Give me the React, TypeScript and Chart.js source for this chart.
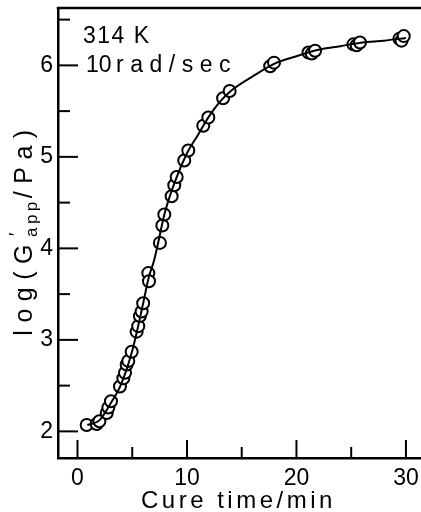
import React, { useEffect, useRef } from 'react';
import { Chart, registerables } from 'chart.js';

Chart.register(...registerables);

// Measured data: cure time (min) and log(G'app / Pa)
const timeMin = [0.84, 1.75, 2.0, 2.67, 2.82, 3.06, 3.88, 4.19, 4.34, 4.49, 4.64, 4.95, 5.4, 5.55, 5.7, 5.86, 6.0, 6.47, 6.53, 7.53, 7.75, 7.93, 8.6, 8.84, 9.06, 9.75, 10.12, 11.49, 11.95, 13.3, 13.9, 17.6, 17.95, 21.1, 21.4, 21.7, 25.2, 25.5, 25.8, 29.4, 29.6, 29.8];
const logG = [2.07, 2.08, 2.11, 2.2, 2.26, 2.33, 2.49, 2.58, 2.64, 2.73, 2.77, 2.87, 3.09, 3.15, 3.26, 3.31, 3.4, 3.73, 3.64, 4.06, 4.25, 4.37, 4.57, 4.69, 4.78, 4.96, 5.07, 5.34, 5.43, 5.64, 5.72, 5.99, 6.03, 6.14, 6.13, 6.16, 6.23, 6.22, 6.25, 6.29, 6.27, 6.32];

// Fitted curve
const curveTime = [0.9, 2, 3, 4, 5, 6, 6.5, 7, 8, 9, 10, 11, 12, 13, 14, 16, 18, 20, 22, 24, 26, 28, 30];
const curveLogG = [2.07, 2.12, 2.3, 2.52, 2.88, 3.4, 3.68, 3.87, 4.4, 4.76, 5.04, 5.24, 5.44, 5.6, 5.72, 5.88, 6.02, 6.1, 6.17, 6.21, 6.25, 6.27, 6.3];

const xTickStep = 5;
const yTickStep = 0.5;
const annotationLine1 = '314 K';
const annotationLine2a = '10';
const annotationLine2b = 'rad/sec';
const xTitle = 'Cure time/min';

const FONT = '"Liberation Sans", Arial, sans-serif';

function drawSpaced(ctx: CanvasRenderingContext2D, text: string, x: number, y: number, spacing: number) {
  (ctx as any).letterSpacing = spacing + 'px';
  ctx.fillText(text, x, y);
  (ctx as any).letterSpacing = '0px';
}

function measureSpaced(ctx: CanvasRenderingContext2D, text: string, spacing: number) {
  (ctx as any).letterSpacing = spacing + 'px';
  const w = ctx.measureText(text).width;
  (ctx as any).letterSpacing = '0px';
  return w;
}

const decorPlugin = {
  id: 'decor',
  afterDraw(chart: any) {
    const ctx: CanvasRenderingContext2D = chart.ctx;
    const { left, right, top, bottom } = chart.chartArea;
    const xs = chart.scales.x;
    const ys = chart.scales.y;
    ctx.save();
    ctx.strokeStyle = '#000';
    ctx.fillStyle = '#000';
    // top frame line
    ctx.lineWidth = 2.5;
    ctx.beginPath();
    ctx.moveTo(left - 1.25, top);
    ctx.lineTo(right, top);
    ctx.stroke();
    // inward ticks
    ctx.lineWidth = 2;
    ys.ticks.forEach((t: any) => {
      const p = ys.getPixelForValue(t.value);
      const major = Math.abs(t.value - Math.round(t.value)) < 1e-6;
      ctx.beginPath();
      ctx.moveTo(left, p);
      ctx.lineTo(left + (major ? 20 : 12), p);
      ctx.stroke();
    });
    xs.ticks.forEach((t: any) => {
      const p = xs.getPixelForValue(t.value);
      const major = Math.abs(t.value / 10 - Math.round(t.value / 10)) < 1e-6;
      ctx.beginPath();
      ctx.moveTo(p, bottom);
      ctx.lineTo(p, bottom - (major ? 18 : 11));
      ctx.stroke();
    });
    // annotation
    ctx.textAlign = 'left';
    ctx.textBaseline = 'alphabetic';
    ctx.font = `23px ${FONT}`;
    drawSpaced(ctx, annotationLine1, 83, 43, 1.5);
    drawSpaced(ctx, annotationLine2a, 86, 72, 0);
    drawSpaced(ctx, annotationLine2b, 116, 72, 6.5);
    // x title
    ctx.font = `24px ${FONT}`;
    drawSpaced(ctx, xTitle, 141, 508, 3.5);
    // y title (rotated, with subscript)
    ctx.save();
    ctx.translate(32, 229);
    ctx.rotate(-Math.PI / 2);
    const mainFont = `25px ${FONT}`;
    const subFont = `17px ${FONT}`;
    const parts = [
      { t: 'log(G', f: mainFont, dy: 0, s: 7.5 },
      { t: 'app', f: subFont, dy: 5, s: 3.5 },
      { t: '/Pa)', f: mainFont, dy: 0, s: 7.5 },
    ];
    let total = 0;
    const widths: number[] = [];
    parts.forEach((p) => {
      ctx.font = p.f;
      const w = measureSpaced(ctx, p.t, p.s);
      widths.push(w);
      total += w;
    });
    let cx = -total / 2;
    parts.forEach((p, i) => {
      ctx.font = p.f;
      drawSpaced(ctx, p.t, cx, p.dy, p.s);
      if (i === 1) {
        ctx.font = `18px ${FONT}`;
        ctx.fillText('\u2032', cx + 1, -10);
      }
      cx += widths[i];
    });
    ctx.restore();
    ctx.restore();
  },
};

export default function App() {
  const canvasRef = useRef<HTMLCanvasElement | null>(null);

  useEffect(() => {
    const canvas = canvasRef.current;
    if (!canvas) return;
    const chart = new Chart(canvas, {
      type: 'scatter',
      data: {
        datasets: [
          {
            label: 'fit',
            data: curveTime.map((x, i) => ({ x, y: curveLogG[i] })),
            showLine: true,
            borderColor: '#000',
            borderWidth: 2,
            pointRadius: 0,
            cubicInterpolationMode: 'monotone',
            order: 0,
          } as any,
          {
            label: 'data',
            data: timeMin.map((x, i) => ({ x, y: logG[i] })),
            showLine: false,
            pointStyle: 'circle',
            pointRadius: 6,
            pointBorderWidth: 2,
            pointBackgroundColor: '#fff',
            pointBorderColor: '#000',
            order: 1,
          } as any,
        ],
      },
      options: {
        animation: false,
        responsive: true,
        maintainAspectRatio: false,
        events: [],
        layout: { padding: { top: 8, left: 0, right: 0, bottom: 0 } },
        plugins: { legend: { display: false }, tooltip: { enabled: false } },
        scales: {
          x: {
            type: 'linear',
            min: -1.78,
            max: 32.38,
            grid: { display: false, drawTicks: false },
            border: { display: true, color: '#000', width: 2.5 },
            ticks: {
              stepSize: xTickStep,
              includeBounds: false,
              autoSkip: false,
              maxRotation: 0,
              padding: 7,
              color: '#000',
              font: { family: FONT, size: 23 },
              callback: (v: any) => (Math.abs(v / 10 - Math.round(v / 10)) < 1e-6 ? String(v) : ''),
            },
            afterFit: (s: any) => {
              s.height = 54;
              s.paddingLeft = 0;
              s.paddingRight = 0;
            },
          } as any,
          y: {
            type: 'linear',
            min: 1.709,
            max: 6.627,
            grid: { display: false, drawTicks: false },
            border: { display: true, color: '#000', width: 2.5 },
            ticks: {
              stepSize: yTickStep,
              includeBounds: false,
              autoSkip: false,
              padding: 5,
              color: '#000',
              font: { family: FONT, size: 23 },
              callback: (v: any) => (Math.abs(v - Math.round(v)) < 1e-6 ? String(v) : ''),
            },
            afterFit: (s: any) => {
              s.width = 58;
              s.paddingTop = 0;
              s.paddingBottom = 0;
            },
          } as any,
        },
      },
      plugins: [decorPlugin],
    });
    return () => chart.destroy();
  }, []);

  return (
    <div style={{ position: 'fixed', left: 0, top: 0, width: 440, height: 512, background: '#fff' }}>
      <canvas ref={canvasRef} />
    </div>
  );
}
